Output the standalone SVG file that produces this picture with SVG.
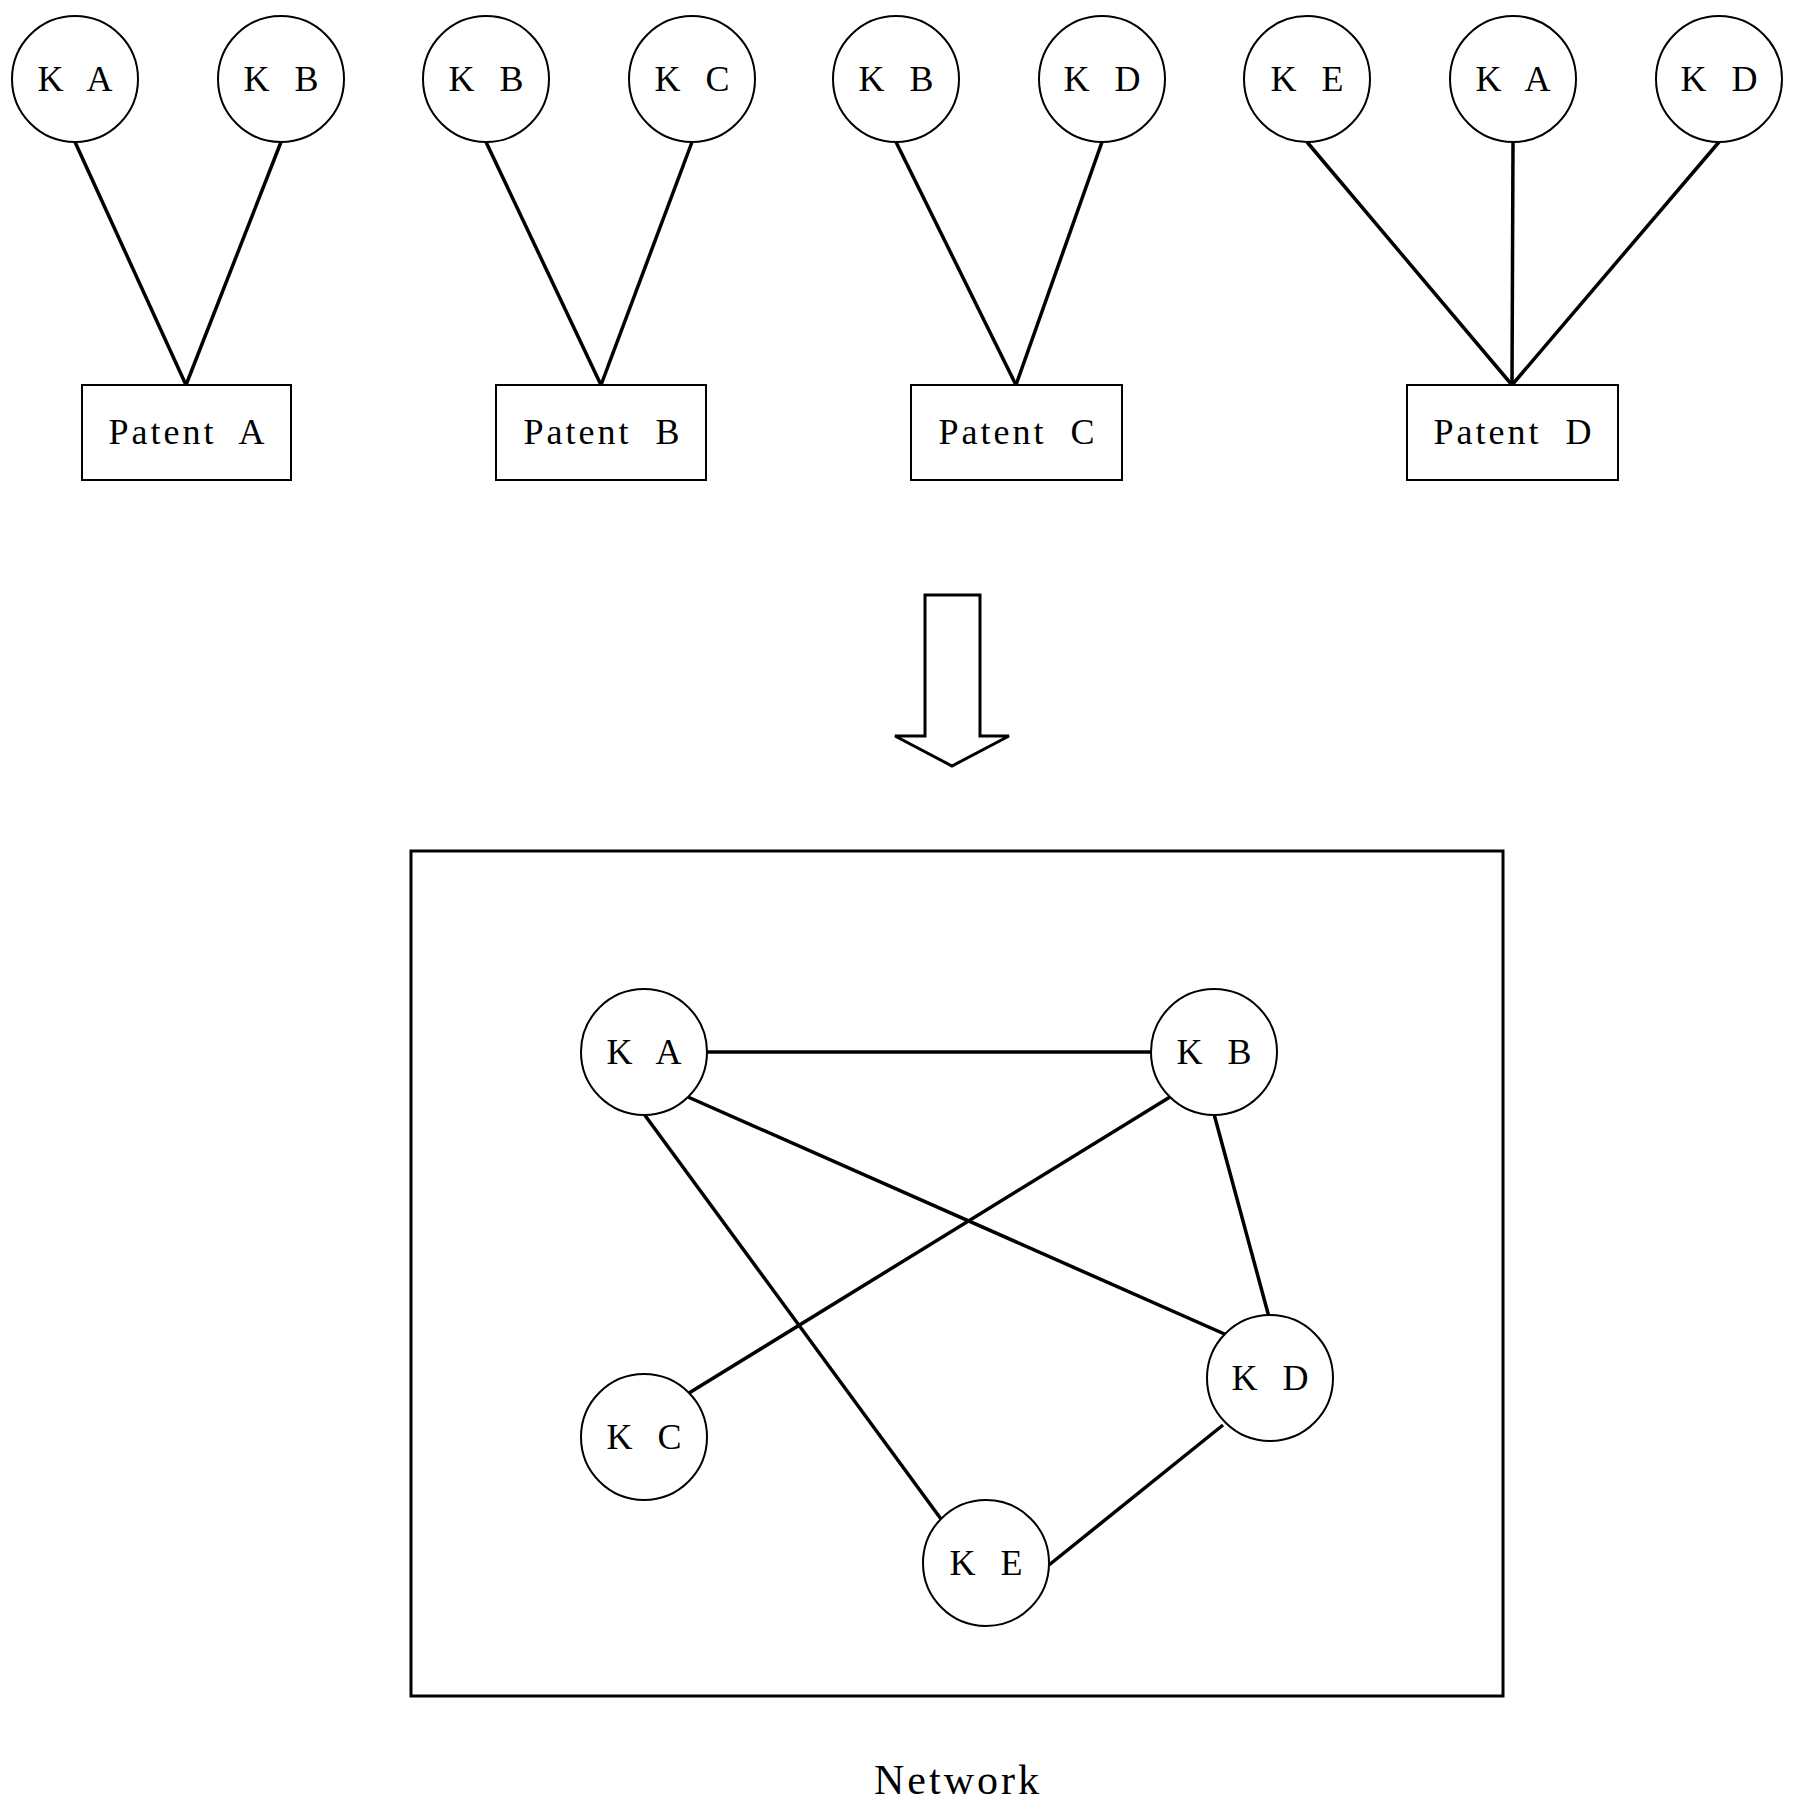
<svg xmlns="http://www.w3.org/2000/svg" width="1795" height="1806" viewBox="0 0 1795 1806">
<style>
.n circle{fill:#fff;stroke:#000;stroke-width:2}
.n rect{fill:#fff;stroke:#000;stroke-width:2}
text{font-family:"Liberation Serif","Noto Serif CJK SC",serif;font-size:36px;letter-spacing:3px;text-anchor:middle;dominant-baseline:central;fill:#000;white-space:pre}
.k{letter-spacing:8px}
.c line{stroke:#000;stroke-width:3.5}
</style>
<rect width="1795" height="1806" fill="#fff"/>
<g class="c" id="connectors">
<line x1="75" y1="142" x2="186" y2="385"/><line x1="281" y1="142" x2="186" y2="385"/>
<line x1="486" y1="142" x2="601" y2="385"/><line x1="692" y1="142" x2="601" y2="385"/>
<line x1="896" y1="142" x2="1016" y2="385"/><line x1="1102" y1="142" x2="1016" y2="385"/>
<line x1="1307" y1="142" x2="1512" y2="385"/><line x1="1513" y1="142" x2="1512" y2="385"/><line x1="1719" y1="142" x2="1512" y2="385"/>
<line x1="707" y1="1052" x2="1151" y2="1052"/>
<line x1="688" y1="1097" x2="1229" y2="1336"/>
<line x1="644" y1="1114" x2="941" y2="1519"/>
<line x1="1170" y1="1097" x2="689" y2="1393"/>
<line x1="1214" y1="1114" x2="1269" y2="1317"/>
<line x1="1223" y1="1425" x2="1049" y2="1565"/>
</g>
<g class="n" id="t1"><circle cx="75" cy="79" r="63"/><text class="k" x="79" y="79">K A</text></g>
<g class="n" id="t2"><circle cx="281" cy="79" r="63"/><text class="k" x="285" y="79">K B</text></g>
<g class="n" id="t3"><circle cx="486" cy="79" r="63"/><text class="k" x="490" y="79">K B</text></g>
<g class="n" id="t4"><circle cx="692" cy="79" r="63"/><text class="k" x="696" y="79">K C</text></g>
<g class="n" id="t5"><circle cx="896" cy="79" r="63"/><text class="k" x="900" y="79">K B</text></g>
<g class="n" id="t6"><circle cx="1102" cy="79" r="63"/><text class="k" x="1106" y="79">K D</text></g>
<g class="n" id="t7"><circle cx="1307" cy="79" r="63"/><text class="k" x="1311" y="79">K E</text></g>
<g class="n" id="t8"><circle cx="1513" cy="79" r="63"/><text class="k" x="1517" y="79">K A</text></g>
<g class="n" id="t9"><circle cx="1719" cy="79" r="63"/><text class="k" x="1723" y="79">K D</text></g>
<g class="n" id="pA"><rect x="82" y="385" width="209" height="95"/><text x="188" y="432">Patent  A</text></g>
<g class="n" id="pB"><rect x="496" y="385" width="210" height="95"/><text x="603" y="432">Patent  B</text></g>
<g class="n" id="pC"><rect x="911" y="385" width="211" height="95"/><text x="1018" y="432">Patent  C</text></g>
<g class="n" id="pD"><rect x="1407" y="385" width="211" height="95"/><text x="1514" y="432">Patent  D</text></g>
<g id="arrow"><path d="M925 595 H980 V736 H1009 L952 766 L895 736 H925 Z" fill="#fff" stroke="#000" stroke-width="3"/></g>
<g id="network"><rect x="411" y="851" width="1092" height="845" fill="none" stroke="#000" stroke-width="3"/></g>
<g class="n" id="nA"><circle cx="644" cy="1052" r="63"/><text class="k" x="648" y="1052">K A</text></g>
<g class="n" id="nB"><circle cx="1214" cy="1052" r="63"/><text class="k" x="1218" y="1052">K B</text></g>
<g class="n" id="nC"><circle cx="644" cy="1437" r="63"/><text class="k" x="648" y="1437">K C</text></g>
<g class="n" id="nD"><circle cx="1270" cy="1378" r="63"/><text class="k" x="1274" y="1378">K D</text></g>
<g class="n" id="nE"><circle cx="986" cy="1563" r="63"/><text class="k" x="990" y="1563">K E</text></g>
<text x="958" y="1780" style="font-size:42px">Network</text>
</svg>
